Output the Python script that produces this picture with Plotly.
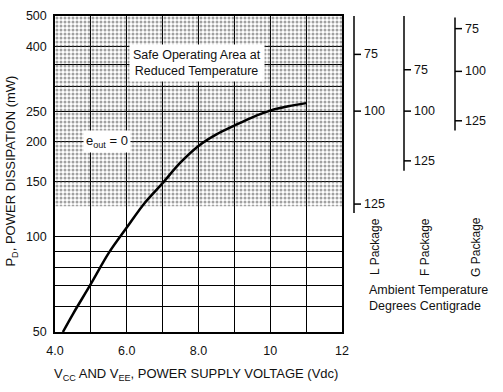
import plotly.graph_objects as go
import math

# ---- data ----
voltage = [4.22, 4.5, 5.0, 5.5, 6.0, 6.5, 7.0, 7.5, 8.0, 8.5, 9.0, 9.5, 10.0, 10.5, 11.0]
power = [50, 57, 71, 89, 107, 128, 148, 172, 194, 211, 225, 239, 251, 259, 265]

x_grid = [4, 5, 6, 7, 8, 9, 10, 11, 12]
x_ticktext = ["4.0", "", "6.0", "", "8.0", "", "10", "", "12"]
y_grid = [50, 60, 70, 80, 90, 100, 150, 200, 250, 300, 350, 400, 500]
y_ticktext = ["50", "", "", "", "", "100", "150", "200", "250", "", "", "400", "500"]

safe_floor = 125  # mW, lower edge of shaded safe area
safe_top = 500

# Temperature scales: (name, temps, equivalent power on main axis, line extent)
packages = [
    ("L Package", [75, 100, 125], [378, 250, 127], [500, 119]),
    ("F Package", [75, 100, 125], [338, 250, 174], [500, 162]),
    ("G Package", [75, 100, 125], [456, 334, 233], [495, 217]),
]

# ---- layout geometry ----
W, H = 503, 392
L, R, T, B = 55, 161, 9, 60
pw = W - L - R
ph = H - T - B

def px_x(p):
    return (p - L) / pw

def px_y(p):
    return (H - B - p) / ph

font = "Liberation Sans, Arial, sans-serif"
ink = "#111111"

fig = go.Figure()

# shaded safe operating area (stippled)
fig.add_trace(go.Scatter(
    x=[x_grid[0], x_grid[-1], x_grid[-1], x_grid[0], x_grid[0]],
    y=[safe_floor, safe_floor, safe_top, safe_top, safe_floor],
    fill="toself", mode="lines", line=dict(width=0),
    fillcolor="rgba(0,0,0,0.05)",
    fillpattern=dict(shape=".", fgcolor="#444444", bgcolor="rgba(0,0,0,0)",
                     size=4, solidity=0.45, fillmode="overlay"),
    hoverinfo="skip", showlegend=False,
))

# curve
fig.add_trace(go.Scatter(
    x=voltage, y=power, mode="lines",
    line=dict(color="black", width=2.5, shape="spline"),
    showlegend=False,
))

axis_common = dict(
    showline=True, linecolor="black", linewidth=1.5, mirror=True,
    showgrid=True, gridcolor="black", gridwidth=1.3, zeroline=False,
    ticks="", tickfont=dict(family=font, size=12.5, color=ink),
)
fig.update_xaxes(range=[4, 12], tickvals=x_grid, ticktext=x_ticktext,
                 ticklabelstandoff=6, **axis_common)
fig.update_yaxes(type="log", range=[math.log10(50), math.log10(500)],
                 tickvals=y_grid, ticktext=y_ticktext, ticklabelstandoff=4,
                 **axis_common)

annotations = []
shapes = []

annotations.append(dict(
    x=7.95, y=math.log10(355), xref="x", yref="y",
    text="Safe Operating Area at<br>Reduced Temperature", showarrow=False,
    xanchor="center", yanchor="middle",
    font=dict(family=font, size=12.5, color=ink), bgcolor="white",
    borderpad=3, align="center"))
annotations.append(dict(
    x=5.45, y=math.log10(200), xref="x", yref="y",
    text="e<sub>out</sub> = 0", showarrow=False,
    xanchor="center", yanchor="middle",
    font=dict(family=font, size=13, color=ink), bgcolor="white", borderpad=2))

# temperature scales
scale_px = [354, 404, 455]
tick_len = 7 / pw
for (name, temps, pwr, ext), sx in zip(packages, scale_px):
    x0 = px_x(sx)
    shapes.append(dict(type="line", xref="paper", yref="y", x0=x0, x1=x0,
                       y0=ext[0], y1=ext[1], line=dict(color="black", width=1.5)))
    for t, p in zip(temps, pwr):
        shapes.append(dict(type="line", xref="paper", yref="y", x0=x0, x1=x0 + tick_len,
                           y0=p, y1=p, line=dict(color="black", width=1.5)))
        annotations.append(dict(x=x0 + tick_len, y=math.log10(p), xref="paper", yref="y",
                                text=str(t), showarrow=False, xanchor="left",
                                yanchor="middle", xshift=1,
                                font=dict(family=font, size=12.5, color=ink)))
    annotations.append(dict(x=px_x(sx + 21), y=px_y(245), xref="paper", yref="paper",
                            text=name, showarrow=False, textangle=-90,
                            xanchor="center", yanchor="middle",
                            font=dict(family=font, size=12, color=ink)))

annotations.append(dict(x=px_x(367), y=px_y(297), xref="paper", yref="paper",
                        text="Ambient Temperature<br>Degrees Centigrade", showarrow=False,
                        xanchor="left", yanchor="middle", align="left",
                        font=dict(family=font, size=12.5, color=ink)))

annotations.append(dict(x=px_x(52), y=px_y(375), xref="paper", yref="paper",
                        text="V<sub>CC</sub> AND V<sub>EE</sub>, POWER SUPPLY VOLTAGE (Vdc)",
                        showarrow=False, xanchor="left", yanchor="middle",
                        font=dict(family=font, size=13, color=ink)))
annotations.append(dict(x=px_x(12), y=px_y(168), xref="paper", yref="paper",
                        text="P<sub>D</sub>, POWER DISSIPATION (mW)", showarrow=False,
                        textangle=-90, xanchor="center", yanchor="middle",
                        font=dict(family=font, size=13, color=ink)))

fig.update_layout(
    width=W, height=H, margin=dict(l=L, r=R, t=T, b=B),
    paper_bgcolor="white", plot_bgcolor="white",
    annotations=annotations, shapes=shapes, showlegend=False,
)

fig.write_html("out.html")
